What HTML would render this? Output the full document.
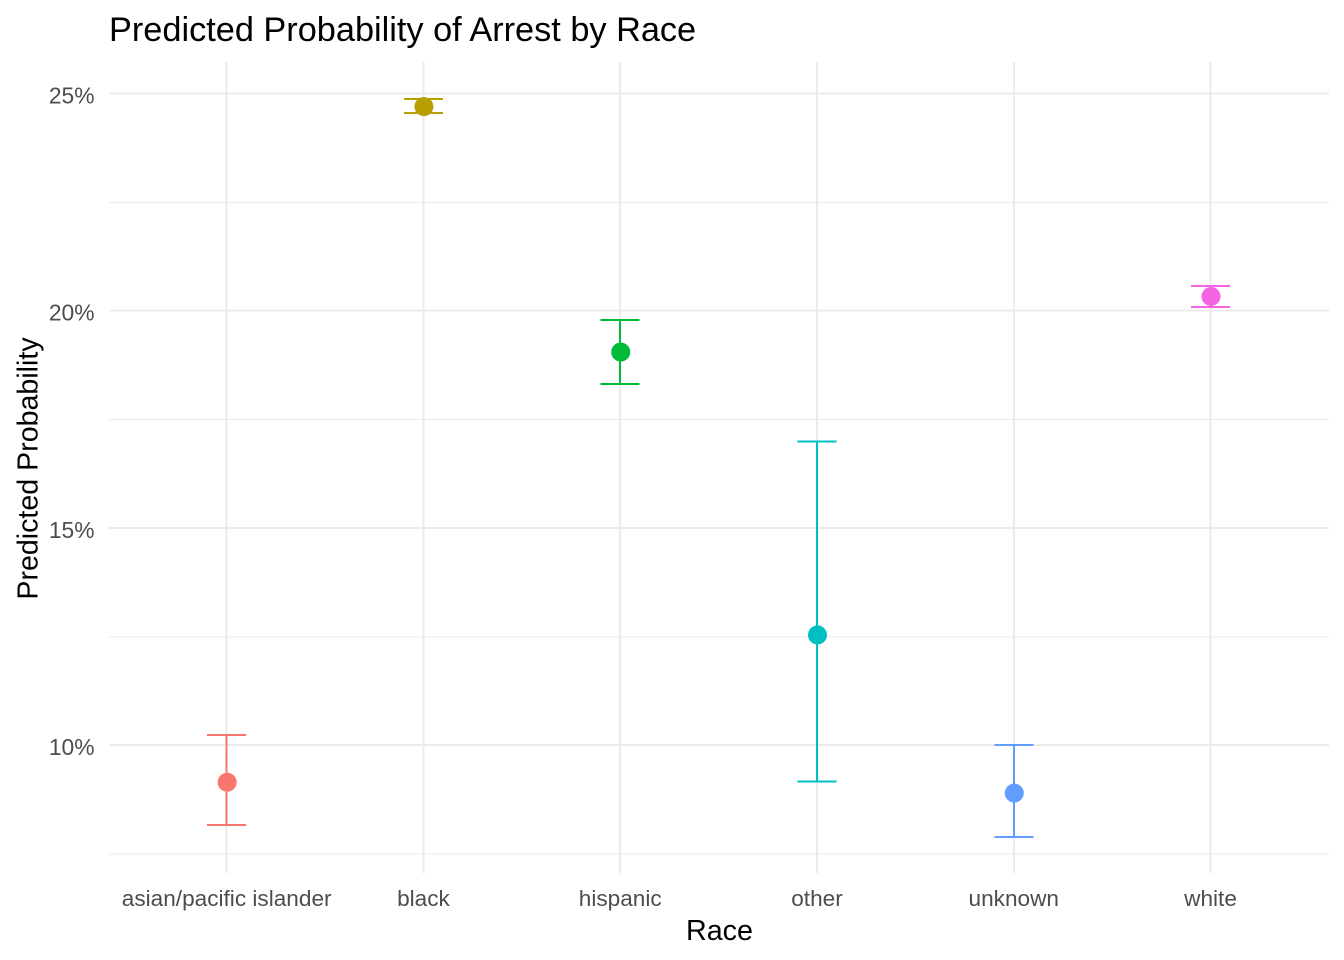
<!DOCTYPE html>
<html lang="en">
<head>
<meta charset="utf-8">
<title>Predicted Probability of Arrest by Race</title>
<style>
html,body{margin:0;padding:0;background:#fff;width:1344px;height:960px;overflow:hidden}
svg{display:block}
text{font-family:"Liberation Sans",Arial,sans-serif}
</style>
</head>
<body>
<svg id="chart" xmlns="http://www.w3.org/2000/svg" width="1344" height="960" viewBox="0 0 1344 960" shape-rendering="crispEdges">
  <g id="grid"></g>
  <g id="marks"></g>
  <g id="xt"></g>
  <g id="yt"></g>
  <text x="109" y="41" font-size="34.3" fill="#000">Predicted Probability of Arrest by Race</text>
  <text x="719.5" y="940" font-size="28.7" text-anchor="middle" fill="#000">Race</text>
  <text transform="translate(37.5,468.5) rotate(-90)" font-size="28.6" text-anchor="middle" fill="#000">Predicted Probability</text>
</svg>
<script>
const categories = ['asian/pacific islander','black','hispanic','other','unknown','white'];
const estimates = [9.15,24.7,19.05,12.54,8.9,20.33];
const upperBounds = [10.23,24.87,19.78,16.98,10.0,20.56];
const lowerBounds = [8.16,24.55,18.31,9.16,7.88,20.08];
const seriesColors = ['#F8766D','#B79F00','#00BA38','#00BFC4','#619CFF','#F564E3'];
const majorTicks = [10,15,20,25];
const minorTicks = [7.5,12.5,17.5,22.5];

const NS = 'http://www.w3.org/2000/svg';
const panel = {left:108.6,right:1328.6,top:62,bottom:873};
const xScale = i => panel.left + (panel.right-panel.left)*(i+0.6)/(categories.length-1+1.2);
const yScale = v => 745 - (v-10)*43.45;
const capHalf = 19.5;

function make(tag, attrs, parent){
  const el = document.createElementNS(NS, tag);
  for (const k in attrs) el.setAttribute(k, attrs[k]);
  parent.appendChild(el);
  return el;
}
const grid = document.getElementById('grid');
const marks = document.getElementById('marks');
const xt = document.getElementById('xt');
const yt = document.getElementById('yt');

minorTicks.forEach(v => {
  const l = make('line',{x1:109,x2:1329,y1:yScale(v)+0.55,y2:yScale(v)+0.55,stroke:'#EBEBEB','stroke-width':1},grid);
  
  
});
majorTicks.forEach(v => {
  const l = make('line',{x1:109,x2:1329,y1:yScale(v),y2:yScale(v),stroke:'#EBEBEB','stroke-width':2},grid);
  
  
  const t = make('text',{x:94.5,y:yScale(v)+10,'font-size':22.8,'text-anchor':'end',fill:'#4D4D4D'},yt);
  t.textContent = v + '%';
  
  
});
categories.forEach((c,i) => {
  const x = xScale(i);
  const l = make('line',{x1:x,x2:x,y1:panel.top,y2:panel.bottom,stroke:'#EBEBEB','stroke-width':2},grid);
  
  
  const t = make('text',{x:x,y:906,'font-size':22.6,'text-anchor':'middle',fill:'#4D4D4D'},xt);
  t.textContent = c;
  
  
});
categories.forEach((c,i) => {
  const x = xScale(i), col = seriesColors[i];
  const g = make('g',{},marks);
  
  
  const up = yScale(upperBounds[i]), lo = yScale(lowerBounds[i]);
  const stem = make('line',{x1:x,x2:x,y1:up,y2:lo,stroke:col,'stroke-width':2},g);
  
  
  const capTop = make('line',{x1:x-capHalf,x2:x+capHalf,y1:up,y2:up,stroke:col,'stroke-width':2},g);
  
  
  const capBot = make('line',{x1:x-capHalf,x2:x+capHalf,y1:lo,y2:lo,stroke:col,'stroke-width':2},g);
  
  
  const pt = make('circle',{cx:x+0.5,cy:yScale(estimates[i])+0.3,r:9.5,fill:col,'shape-rendering':'auto'},g);
  
  
});
</script>
</body>
</html>
